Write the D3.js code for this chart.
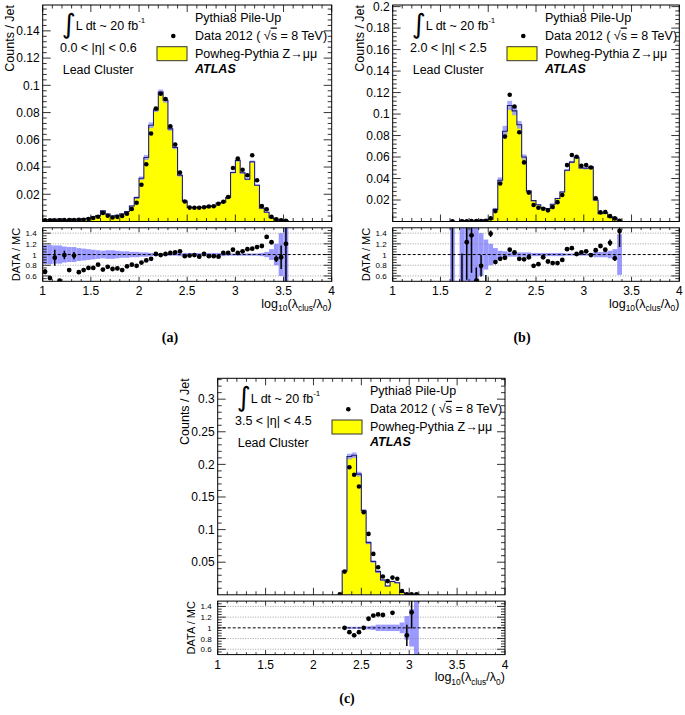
<!DOCTYPE html>
<html><head><meta charset="utf-8">
<script src="https://cdn.jsdelivr.net/npm/d3@7"></script>
<style>
body{margin:0;background:#fff;}
svg text{font-family:"Liberation Sans",Arial,sans-serif;fill:#000;}
</style></head><body>
<svg id="chart" width="685" height="715"></svg>
<script>
// ---------------- data ----------------
const binStart = 1.0, binWidth = 0.05;
const xTickValues = [1, 1.5, 2, 2.5, 3, 3.5, 4];
const xTickLabels = ["1", "1.5", "2", "2.5", "3", "3.5", "4"];
const ratioTickValues = [0.6, 0.8, 1, 1.2, 1.4];
const ratioTickLabels = ["0.6", "0.8", "1", "1.2", "1.4"];

const yTicksA = [0.02, 0.04, 0.06, 0.08, 0.1, 0.12, 0.14];
const yLabelsA = ["0.02", "0.04", "0.06", "0.08", "0.1", "0.12", "0.14"];
const yTicksB = [0.02, 0.04, 0.06, 0.08, 0.1, 0.12, 0.14, 0.16, 0.18, 0.2];
const yLabelsB = ["0.02", "0.04", "0.06", "0.08", "0.1", "0.12", "0.14", "0.16", "0.18", "0.2"];
const yTicksC = [0.05, 0.1, 0.15, 0.2, 0.25, 0.3];
const yLabelsC = ["0.05", "0.1", "0.15", "0.2", "0.25", "0.3"];

// panel (a) 0.0 < |eta| < 0.6
const dataA = [0.0008,0.0008,0.0009,0.0009,0.001,0.001,0.0011,0.0012,0.0013,0.0018,
  0.0026,0.0035,0.0062,0.0042,0.0029,0.0034,0.004,0.0057,0.0092,0.0138,
  0.027,0.042,0.0646,0.083,0.0938,0.090,0.0700,0.0566,0.0359,0.0147,
  0.0102,0.0101,0.0101,0.0105,0.011,0.0112,0.013,0.0145,0.018,0.0393,
  0.0462,0.038,0.034,0.0487,0.0303,0.0114,0.009,0.0035,0.0016,0.0008,0.0006];
const mcA = [0.0012,0.0014,0.001,0.0018,0.001,0.0014,0.0011,0.0018,0.0018,0.0024,
  0.0035,0.0043,0.0078,0.0055,0.004,0.0046,0.0056,0.0073,0.0114,0.0175,
  0.0318,0.047,0.0707,0.082,0.095,0.089,0.068,0.0543,0.034,0.015,
  0.0104,0.0102,0.0105,0.0104,0.0113,0.0115,0.0135,0.0141,0.0175,0.036,
  0.0449,0.0358,0.031,0.0439,0.0266,0.0098,0.0068,0.0028,0.0017,0.0008,0.0005];
const ratioA = [0.68,0.56,0.94,0.51,0.99,0.71,0.98,0.67,0.71,0.75,
  0.75,0.81,0.72,0.77,0.73,0.74,0.71,0.78,0.81,0.79,
  0.85,0.89,0.92,1.01,0.99,1.01,1.03,1.04,1.06,0.97,
  0.98,0.99,0.96,1.01,0.97,0.97,0.96,1.03,1.03,1.09,
  1.03,1.06,1.10,1.11,1.14,1.16,1.33,1.23,0.92,0.95,1.2];
const ratioErrA = [0.05,0.03,0.15,0.03,0.08,0.04,0.07,0.03,0.03,0.03,
  0.03,0.02,0.03,0.02,0.02,0.02,0.02,0.02,0.02,0.02,
  0.01,0.01,0.01,0.01,0.01,0.01,0.01,0.01,0.01,0.01,
  0.01,0.01,0.01,0.01,0.01,0.01,0.01,0.01,0.01,0.01,
  0.01,0.01,0.01,0.01,0.01,0.02,0.03,0.04,0.06,0.22,1.5];
const bandA = [0.18,0.18,0.17,0.17,0.15,0.14,0.14,0.12,0.11,0.1,
  0.09,0.08,0.07,0.08,0.08,0.07,0.06,0.06,0.05,0.05,
  0.04,0.04,0.03,0.02,0.02,0.02,0.02,0.02,0.03,0.03,
  0.03,0.03,0.03,0.03,0.03,0.03,0.03,0.03,0.02,0.02,
  0.02,0.02,0.02,0.02,0.02,0.03,0.05,0.1,0.2,0.4,1.0];

// panel (b) 2.0 < |eta| < 2.5
const N = null;
const dataB = [N,N,N,N,N,N,N,N,N,N,N,N, 0.0003, N, 0.0003,0.0003,0.0004,0.0004,0.0005,0.0006,
  0.0029,0.0097,0.0353,0.079,0.118,0.107,0.083,0.055,0.0269,0.0153,
  0.0128,0.0119,0.0104,0.0135,0.018,0.0247,0.0525,0.0619,0.0603,0.0518,
  0.0525,0.0503,0.0216,0.0085,0.0088,0.005,0.0029,0.0006];
const mcB = [N,N,N,N,N,N,N,N,N,N,N,N, 0.0002, N, 0.001,0.00025,0.0003,0.0008,0.0006,0.0017,
  0.0021,0.0113,0.0384,0.084,0.108,0.103,0.090,0.060,0.0283,0.0194,
  0.0156,0.0125,0.012,0.016,0.0214,0.0274,0.0477,0.0553,0.0597,0.0498,
  0.0495,0.0508,0.020,0.0073,0.0081,0.0041,0.0031,0.0004];
const ratioB = [N,N,N,N,N,N,N,N,N,N,N,N, 3.0, N, 0.3,1.23,1.36,0.51,0.79,0.35,
  1.39,0.86,0.92,0.94,1.09,1.04,0.92,0.91,0.95,0.79,
  0.82,0.95,0.87,0.84,0.84,0.90,1.10,1.12,1.01,1.04,
  1.06,0.99,1.08,1.16,1.09,1.22,0.93,1.44];
const ratioErrB = [N,N,N,N,N,N,N,N,N,N,N,N, 2.9, N, 0.72,0.7,0.7,0.25,0.2,0.27,
  0.06,0.03,0.02,0.02,0.02,0.02,0.02,0.02,0.02,0.03,
  0.03,0.03,0.03,0.03,0.03,0.03,0.02,0.02,0.02,0.02,
  0.02,0.02,0.03,0.04,0.04,0.06,0.05,0.3];
const bandB = [N,N,N,N,N,N,N,N,N,N,N,N, 1.0, N, 1,1,1,1,0.4,0.28,
  0.2,0.12,0.07,0.06,0.04,0.04,0.04,0.04,0.04,0.03,
  0.03,0.03,0.03,0.03,0.03,0.03,0.02,0.02,0.02,0.02,
  0.02,0.02,0.05,0.05,0.05,0.07,0.1,0.38];

// panel (c) 3.5 < |eta| < 4.5
const dataC = [N,N,N,N,N,N,N,N,N,N,N,N,N,N,N,N,N,N,N,N,N,N,N,N,N, 0.0008,
  0.0356,0.1955,0.184,0.166,0.1266,0.0934,0.0627,0.0423,0.028,0.0210,0.0264,0.0245,0.0058,0.0009,0.0009,0.0009];
const mcC = [N,N,N,N,N,N,N,N,N,N,N,N,N,N,N,N,N,N,N,N,N,N,N,N,N, N,
  0.0366,0.2120,0.2140,0.1850,0.1290,0.0800,0.0510,0.0356,0.0228,0.0136,0.0205,0.0185,0.0035,0.0009,0.0007,0.0003];
const ratioC = [N,N,N,N,N,N,N,N,N,N,N,N,N,N,N,N,N,N,N,N,N,N,N,N,N, N,
  1.0,0.92,0.86,0.92,1.0,1.17,1.23,1.25,1.24,1.6,1.28,1.6,1.7,0.86,1.29,N];
const ratioErrC = [N,N,N,N,N,N,N,N,N,N,N,N,N,N,N,N,N,N,N,N,N,N,N,N,N, N,
  0.01,0.01,0.01,0.01,0.01,0.02,0.02,0.02,0.03,0.05,0.04,0.05,0.2,0.2,0.3,N];
const bandC = [N,N,N,N,N,N,N,N,N,N,N,N,N,N,N,N,N,N,N,N,N,N,N,N,N, N,
  0.02,0.02,0.02,0.02,0.02,0.03,0.04,0.06,0.06,0.06,0.06,0.06,0.1,0.22,0.35,1.0];

// ---------------- drawing ----------------
const svg = d3.select("#chart");
const H_UP = 216.5, GAP = 6.3, H_LO = 53.5;
const YELLOW = "#ffff00", BAND = "#9999ff", LINE = "#1c1c78";

const panels = [
  {tag:"(a)", tagX:170, tagY:342, L:42.7, W:289, T:5, yMax:0.159, yMinor:0.004, yT:yTicksA, yL:yLabelsA,
   eta:"0.0 < |η| < 0.6", data:dataA, mc:mcA, ratio:ratioA, err:ratioErrA, band:bandA},
  {tag:"(b)", tagX:522, tagY:342, L:392.7, W:286.6, T:5, yMax:0.2015, yMinor:0.004, yT:yTicksB, yL:yLabelsB,
   eta:"2.0 < |η| < 2.5", data:dataB, mc:mcB, ratio:ratioB, err:ratioErrB, band:bandB},
  {tag:"(c)", tagX:347, tagY:703, L:217.7, W:287.3, T:378.3, yMax:0.332, yMinor:0.01, yT:yTicksC, yL:yLabelsC,
   eta:"3.5 < |η| < 4.5", data:dataC, mc:mcC, ratio:ratioC, err:ratioErrC, band:bandC}
];

panels.forEach((p, pi) => {
  const g = svg.append("g");
  const L = p.L, R = p.L + p.W, T = p.T, B = p.T + H_UP;
  const LT = B + GAP, LB = LT + H_LO;
  const x = d3.scaleLinear().domain([1, 4]).range([L, R]);
  const y = d3.scaleLinear().domain([0, p.yMax]).range([B, T]);
  const yr = d3.scaleLinear().domain([0.5, 1.5]).range([LB, LT]);
  const bins = p.mc.map((v, i) => ({i, x0: binStart + i * binWidth, x1: binStart + (i + 1) * binWidth,
    c: binStart + (i + 0.5) * binWidth, mc: v, data: p.data[i], r: p.ratio[i], e: p.err[i], b: p.band[i]}));

  const cu = "cu" + pi, cl = "cl" + pi;
  const defs = svg.append("defs");
  defs.append("clipPath").attr("id", cu).append("rect").attr("x", L).attr("y", T).attr("width", p.W).attr("height", H_UP);
  defs.append("clipPath").attr("id", cl).append("rect").attr("x", L).attr("y", LT).attr("width", p.W).attr("height", H_LO);

  // ---- upper histogram ----
  const up = g.append("g").attr("clip-path", `url(#${cu})`);
  const mcBins = bins.filter(d => d.mc !== null);
  const first = mcBins[0], last = mcBins[mcBins.length - 1];
  let pts = [[x(first.x0), y(0)]];
  bins.filter(d => d.i >= first.i && d.i <= last.i).forEach(d => {
    const v = d.mc === null ? 0 : d.mc;
    pts.push([x(d.x0), y(v)]); pts.push([x(d.x1), y(v)]);
  });
  pts.push([x(last.x1), y(0)]);
  const line = d3.line();
  up.append("path").attr("d", line(pts) + "Z").attr("fill", YELLOW).attr("stroke", "none");
  up.selectAll("rect.band").data(mcBins.filter(d => d.b !== null)).join("rect")
    .attr("x", d => x(d.x0)).attr("width", d => x(d.x1) - x(d.x0))
    .attr("y", d => y(d.mc * (1 + d.b)))
    .attr("height", d => y(Math.max(0, d.mc * (1 - d.b))) - y(d.mc * (1 + d.b)))
    .attr("fill", BAND).attr("opacity", 0.85);
  up.append("path").attr("d", line(pts)).attr("fill", "none").attr("stroke", LINE).attr("stroke-width", 1.1);
  up.selectAll("circle").data(bins.filter(d => d.data !== null)).join("circle")
    .attr("cx", d => x(d.c)).attr("cy", d => y(d.data)).attr("r", 2.3).attr("fill", "#000");

  // ---- lower ratio ----
  const lo = g.append("g").attr("clip-path", `url(#${cl})`);
  lo.selectAll("rect").data(bins.filter(d => d.b !== null && d.b > 0)).join("rect")
    .attr("x", d => x(d.x0)).attr("width", d => x(d.x1) - x(d.x0))
    .attr("y", d => yr(1 + d.b)).attr("height", d => yr(1 - d.b) - yr(1 + d.b))
    .attr("fill", BAND);
  [0.6, 0.8, 1.2, 1.4].forEach(v => {
    lo.append("line").attr("x1", L).attr("x2", R).attr("y1", yr(v)).attr("y2", yr(v))
      .attr("stroke", "#888").attr("stroke-width", 0.8).attr("stroke-dasharray", "1,1.5");
  });
  lo.append("line").attr("x1", L).attr("x2", R).attr("y1", yr(1)).attr("y2", yr(1))
    .attr("stroke", "#000").attr("stroke-width", 1).attr("stroke-dasharray", "3,2");
  const rb = bins.filter(d => d.r !== null);
  lo.selectAll("line.err").data(rb.filter(d => d.e > 0.04)).join("line")
    .attr("x1", d => x(d.c)).attr("x2", d => x(d.c))
    .attr("y1", d => yr(d.r - d.e)).attr("y2", d => yr(d.r + d.e))
    .attr("stroke", "#000").attr("stroke-width", 1.5);
  lo.selectAll("circle").data(rb).join("circle")
    .attr("cx", d => x(d.c)).attr("cy", d => yr(d.r)).attr("r", 2.4).attr("fill", "#000");

  // ---- frames ----
  g.append("rect").attr("x", L).attr("y", T).attr("width", p.W).attr("height", H_UP)
    .attr("fill", "none").attr("stroke", "#000").attr("stroke-width", 1);
  g.append("rect").attr("x", L).attr("y", LT).attr("width", p.W).attr("height", H_LO)
    .attr("fill", "none").attr("stroke", "#000").attr("stroke-width", 1);

  // ---- ticks ----
  const tk = g.append("g").attr("stroke", "#000").attr("stroke-width", 0.8);
  d3.range(0, 31).forEach(k => {
    const v = 1 + k * 0.1, major = k % 5 === 0, xx = x(v);
    const lu = major ? 7 : 3.5, ll = major ? 4.5 : 2.3;
    tk.append("line").attr("x1", xx).attr("x2", xx).attr("y1", B).attr("y2", B - lu);
    tk.append("line").attr("x1", xx).attr("x2", xx).attr("y1", T).attr("y2", T + lu);
    tk.append("line").attr("x1", xx).attr("x2", xx).attr("y1", LB).attr("y2", LB - ll);
    tk.append("line").attr("x1", xx).attr("x2", xx).attr("y1", LT).attr("y2", LT + ll);
  });
  const nMinor = Math.floor(p.yMax / p.yMinor + 1e-6);
  d3.range(1, nMinor + 1).forEach(k => {
    const v = k * p.yMinor, major = k % 5 === 0, yy = y(v), len = major ? 8 : 4;
    tk.append("line").attr("x1", L).attr("x2", L + len).attr("y1", yy).attr("y2", yy);
    tk.append("line").attr("x1", R).attr("x2", R - len).attr("y1", yy).attr("y2", yy);
  });
  d3.range(0, 21).forEach(k => {
    const v = 0.5 + k * 0.05; if (v <= 0.5 || v >= 1.5) return;
    const major = (k % 4 === 2), yy = yr(v), len = major ? 8 : 4;
    tk.append("line").attr("x1", L).attr("x2", L + len).attr("y1", yy).attr("y2", yy);
    tk.append("line").attr("x1", R).attr("x2", R - len).attr("y1", yy).attr("y2", yy);
  });

  // ---- tick labels ----
  p.yT.forEach((v, i) => {
    g.append("text").attr("x", L - 3).attr("y", y(v) + 4.3).attr("text-anchor", "end")
      .attr("font-size", 12).text(p.yL[i]);
  });
  ratioTickValues.forEach((v, i) => {
    g.append("text").attr("x", L - 6).attr("y", yr(v) + 3).attr("text-anchor", "end")
      .attr("font-size", 8).text(ratioTickLabels[i]);
  });
  xTickValues.forEach((v, i) => {
    g.append("text").attr("x", x(v)).attr("y", LB + 14).attr("text-anchor", "middle")
      .attr("font-size", 12).text(xTickLabels[i]);
  });

  // ---- axis titles ----
  g.append("text").attr("transform", `translate(${L - 29},${T}) rotate(-90)`)
    .attr("text-anchor", "end").attr("font-size", 12.5).text("Counts / Jet");
  g.append("text").attr("transform", `translate(${L - 23},${LT}) rotate(-90)`)
    .attr("text-anchor", "end").attr("font-size", 11).text("DATA / MC");
  const xt = g.append("text").attr("x", R).attr("y", LB + 26.5).attr("text-anchor", "end").attr("font-size", 12.5);
  xt.append("tspan").text("log");
  xt.append("tspan").attr("font-size", 8.5).attr("dy", 3.5).text("10");
  xt.append("tspan").attr("dy", -3.5).text("(λ");
  xt.append("tspan").attr("font-size", 8.5).attr("dy", 3.5).text("clus");
  xt.append("tspan").attr("dy", -3.5).text("/λ");
  xt.append("tspan").attr("font-size", 8.5).attr("dy", 3.5).text("0");
  xt.append("tspan").attr("dy", -3.5).text(")");

  // ---- annotations ----
  g.append("text").attr("x", L + 26).attr("y", T + 28).attr("text-anchor", "middle")
    .attr("font-size", 27).style("font-family", "'DejaVu Sans'").text("∫");
  const lum = g.append("text").attr("x", L + 33).attr("y", T + 24.5).attr("font-size", 12.5);
  lum.append("tspan").text("L dt ~ 20 fb");
  lum.append("tspan").attr("font-size", 8).attr("dy", -6.5).text("-1");
  g.append("text").attr("x", L + 17.3).attr("y", T + 46.7).attr("font-size", 12.5).text(p.eta);
  g.append("text").attr("x", L + 20).attr("y", T + 69).attr("font-size", 12.5).text("Lead Cluster");

  // legend
  const lx = L + 152.3;
  g.append("text").attr("x", lx).attr("y", T + 17).attr("font-size", 12.5).text("Pythia8 Pile-Up");
  g.append("circle").attr("cx", L + 130.6).attr("cy", T + 31).attr("r", 2.3).attr("fill", "#000");
  const dt = g.append("text").attr("x", lx).attr("y", T + 34.5).attr("font-size", 12.5);
  dt.append("tspan").text("Data 2012 ( √");
  dt.append("tspan").style("text-decoration", "overline").text("s");
  dt.append("tspan").text(" = 8 TeV)");
  g.append("rect").attr("x", L + 114.3).attr("y", T + 41.7).attr("width", 30).attr("height", 14)
    .attr("fill", YELLOW).attr("stroke", "#333").attr("stroke-width", 1);
  g.append("text").attr("x", lx).attr("y", T + 52.5).attr("font-size", 12.5).text("Powheg-Pythia Z→μμ");
  g.append("text").attr("x", lx).attr("y", T + 67.7).attr("font-size", 12.5)
    .attr("font-weight", "bold").attr("font-style", "italic").text("ATLAS");

  svg.append("text").attr("x", p.tagX).attr("y", p.tagY).attr("text-anchor", "middle")
    .attr("font-size", 14).attr("font-weight", "bold").style("font-family", "'Liberation Serif', serif").text(p.tag);
});
</script>
</body></html>
